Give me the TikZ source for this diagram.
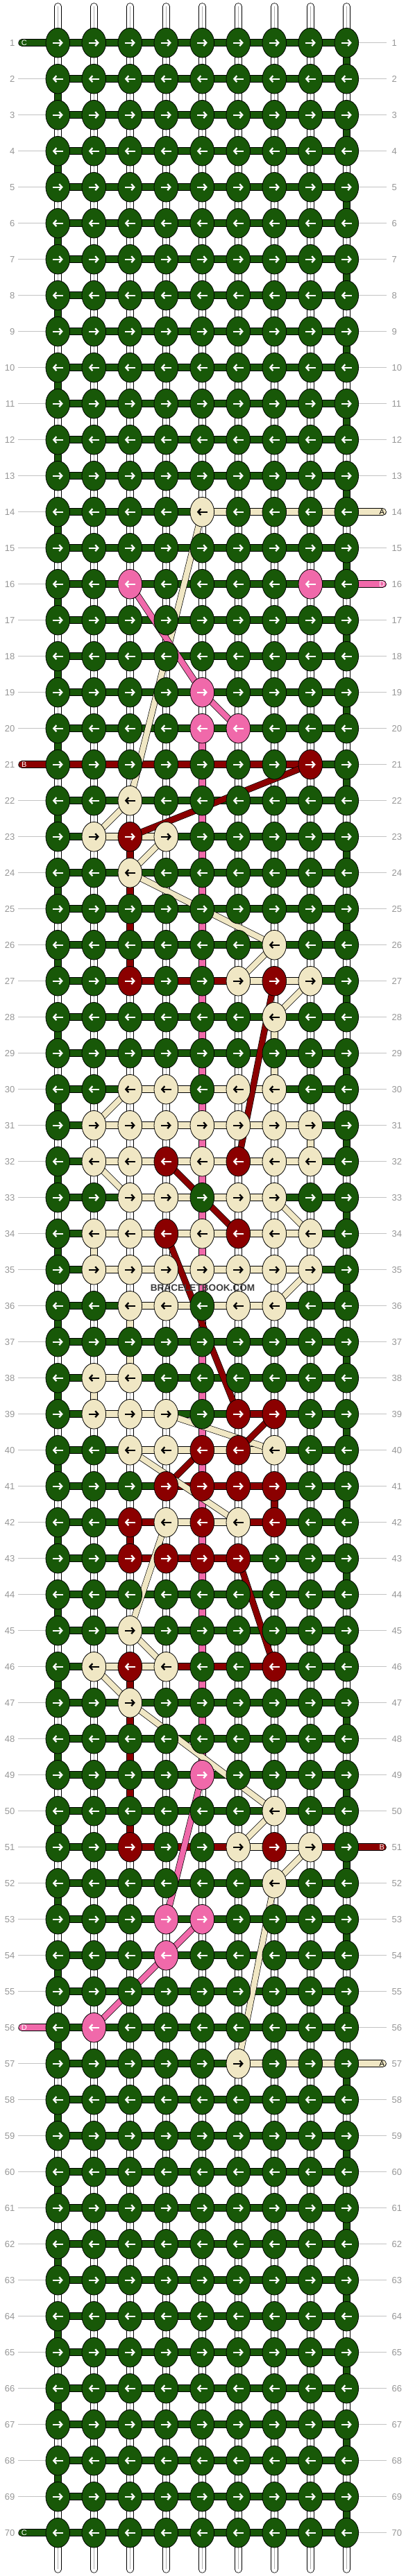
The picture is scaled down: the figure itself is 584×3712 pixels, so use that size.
\documentclass[tikz,border=0pt]{standalone}
\usepackage{fontspec}
\setmainfont{Liberation Sans}
\usetikzlibrary{arrows.meta,shapes.geometric}
\definecolor{cG}{RGB}{24,88,8}
\definecolor{cY}{RGB}{240,231,196}
\definecolor{cR}{RGB}{139,0,0}
\definecolor{cP}{RGB}{240,105,170}
\definecolor{cW}{RGB}{255,255,255}
\definecolor{lblgray}{RGB}{150,150,150}
\definecolor{linegray}{RGB}{195,195,195}
\definecolor{midgray}{RGB}{175,175,175}
\definecolor{wmgray}{RGB}{60,60,60}
\newcommand\setkn[2]{\expandafter\def\csname kn#1\endcsname{#2}}
\newcommand\sethz[2]{\expandafter\def\csname hz#1\endcsname{#2}}
\newcommand\setvt[2]{\expandafter\def\csname vt#1\endcsname{#2}}
\newcommand\setslL[2]{\expandafter\def\csname slL#1\endcsname{#2}}
\newcommand\setslR[2]{\expandafter\def\csname slR#1\endcsname{#2}}
% knots
\setkn{14}{G,G,G,G,Y,G,G,G,G}
\setkn{16}{G,G,P,G,G,G,G,P,G}
\setkn{19}{G,G,G,G,P,G,G,G,G}
\setkn{20}{G,G,G,G,P,P,G,G,G}
\setkn{21}{G,G,G,G,G,G,G,R,G}
\setkn{22}{G,G,Y,G,G,G,G,G,G}
\setkn{23}{G,Y,R,Y,G,G,G,G,G}
\setkn{24}{G,G,Y,G,G,G,G,G,G}
\setkn{26}{G,G,G,G,G,G,Y,G,G}
\setkn{27}{G,G,R,G,G,Y,R,Y,G}
\setkn{28}{G,G,G,G,G,G,Y,G,G}
\setkn{30}{G,G,Y,Y,G,Y,Y,G,G}
\setkn{31}{G,Y,Y,Y,Y,Y,Y,Y,G}
\setkn{32}{G,Y,Y,R,Y,R,Y,Y,G}
\setkn{33}{G,G,Y,Y,G,Y,Y,G,G}
\setkn{34}{G,Y,Y,R,Y,R,Y,Y,G}
\setkn{35}{G,Y,Y,Y,Y,Y,Y,Y,G}
\setkn{36}{G,G,Y,Y,G,Y,Y,G,G}
\setkn{38}{G,Y,Y,G,G,G,G,G,G}
\setkn{39}{G,Y,Y,Y,G,R,R,G,G}
\setkn{40}{G,G,Y,Y,R,R,Y,G,G}
\setkn{41}{G,G,G,R,R,R,R,G,G}
\setkn{42}{G,G,R,Y,R,Y,R,G,G}
\setkn{43}{G,G,R,R,R,R,G,G,G}
\setkn{45}{G,G,Y,G,G,G,G,G,G}
\setkn{46}{G,Y,R,Y,G,G,R,G,G}
\setkn{47}{G,G,Y,G,G,G,G,G,G}
\setkn{49}{G,G,G,G,P,G,G,G,G}
\setkn{50}{G,G,G,G,G,G,Y,G,G}
\setkn{51}{G,G,R,G,G,Y,R,Y,G}
\setkn{52}{G,G,G,G,G,G,Y,G,G}
\setkn{53}{G,G,G,P,P,G,G,G,G}
\setkn{54}{G,G,G,P,G,G,G,G,G}
\setkn{56}{G,P,G,G,G,G,G,G,G}
\setkn{57}{G,G,G,G,G,Y,G,G,G}
% horizontals: left stub, 8 links, right stub
\sethz{1}{G,G,G,G,G,G,G,G,G,N}
\sethz{14}{N,G,G,G,G,Y,Y,Y,Y,Y}
\sethz{16}{N,G,G,G,G,G,G,G,G,P}
\sethz{21}{R,R,R,R,R,R,R,R,G,N}
\sethz{23}{N,G,Y,Y,G,G,G,G,G,N}
\sethz{27}{N,G,G,R,R,R,Y,Y,G,N}
\sethz{30}{N,G,G,Y,Y,Y,Y,G,G,N}
\sethz{31}{N,G,Y,Y,Y,Y,Y,Y,G,N}
\sethz{32}{N,G,Y,Y,Y,Y,Y,Y,G,N}
\sethz{33}{N,G,G,Y,Y,Y,Y,G,G,N}
\sethz{34}{N,G,Y,Y,Y,Y,Y,Y,G,N}
\sethz{35}{N,G,Y,Y,Y,Y,Y,Y,G,N}
\sethz{36}{N,G,G,Y,Y,Y,Y,G,G,N}
\sethz{38}{N,G,Y,G,G,G,G,G,G,N}
\sethz{39}{N,G,Y,Y,G,G,R,G,G,N}
\sethz{40}{N,G,G,Y,Y,Y,Y,G,G,N}
\sethz{41}{N,G,G,G,R,R,R,G,G,N}
\sethz{42}{N,G,G,R,Y,Y,R,G,G,N}
\sethz{43}{N,G,G,R,R,R,G,G,G,N}
\sethz{46}{N,G,Y,Y,R,R,R,G,G,N}
\sethz{51}{N,G,G,R,R,R,Y,Y,R,R}
\sethz{56}{P,G,G,G,G,G,G,G,G,N}
\sethz{57}{N,G,G,G,G,G,Y,Y,Y,Y}
\sethz{70}{G,G,G,G,G,G,G,G,G,N}
% verticals below row r
\setvt{20}{G,W,W,W,P,W,W,W,W}
\setvt{21}{W,W,W,W,P,W,W,W,G}
\setvt{22}{G,W,W,W,P,W,W,W,W}
\setvt{23}{W,W,R,W,P,W,W,W,G}
\setvt{24}{G,W,R,W,P,W,W,W,W}
\setvt{25}{W,W,R,W,P,W,W,W,G}
\setvt{26}{G,W,R,W,P,W,W,W,W}
\setvt{27}{W,W,W,W,P,W,W,W,G}
\setvt{28}{G,W,W,W,P,W,Y,W,W}
\setvt{29}{W,W,W,W,P,W,Y,W,G}
\setvt{30}{G,W,W,W,P,W,W,W,W}
\setvt{31}{W,W,W,W,P,W,W,Y,G}
\setvt{32}{G,W,W,W,P,W,W,W,W}
\setvt{33}{W,W,W,W,P,W,W,W,G}
\setvt{34}{G,Y,W,W,P,W,W,W,W}
\setvt{35}{W,W,W,W,P,W,W,W,G}
\setvt{36}{G,W,Y,W,P,W,W,W,W}
\setvt{37}{W,W,Y,W,P,W,W,W,G}
\setvt{38}{G,Y,W,W,P,W,W,W,W}
\setvt{39}{W,W,W,W,P,W,W,W,G}
\setvt{40}{G,W,W,W,P,W,W,W,W}
\setvt{41}{W,W,W,W,P,W,R,W,G}
\setvt{42}{G,W,R,W,P,W,W,W,W}
\setvt{43}{W,W,W,W,P,W,W,W,G}
\setvt{44}{G,W,W,W,P,W,W,W,W}
\setvt{45}{W,W,W,W,P,W,W,W,G}
\setvt{46}{G,W,R,W,P,W,W,W,W}
\setvt{47}{W,W,R,W,P,W,W,W,G}
\setvt{48}{G,W,R,W,P,W,W,W,W}
\setvt{49}{W,W,R,W,W,W,W,W,G}
\setvt{50}{G,W,R,W,W,W,W,W,W}
% stub letters
\setslL{1}{C}\setslL{21}{B}\setslL{56}{D}\setslL{70}{C}
\setslR{14}{A}\setslR{16}{D}\setslR{51}{B}\setslR{57}{A}
\tikzset{
  conn/.style={line width=0.8pt, draw=black, double=#1, double distance=9.4pt},
  vconn/.style={line width=0.8pt, draw=black, double=#1, double distance=9pt},
  diag/.style={line width=0.7pt, draw=black, double=#1, double distance=8pt},
  midline/.style={draw=midgray, line width=0.7pt},
  lblline/.style={draw=linegray, line width=0.9pt},
  knot/.style={ellipse, draw=black, line width=0.8pt, minimum width=34.6pt, minimum height=42.6pt, inner sep=0pt},
  arr/.style={line width=2.3pt, -{Straight Barb[length=4pt,width=9pt]}},
  lbl/.style={font=\fontsize{13}{13}\selectfont, text=lblgray, inner sep=0pt},
  stubtxt/.style={font=\fontsize{11}{11}\selectfont, inner sep=0pt},
}
\begin{document}
\begin{tikzpicture}[x=1pt,y=-1pt]
\useasboundingbox (0,0) rectangle (584,3712);
% coordinates
\foreach \r in {1,...,70}{
  \pgfmathsetmacro\yy{61.7+52*(\r-1)}
  \foreach \c in {1,...,9}{
    \pgfmathsetmacro\xx{83.3+52*(\c-1)}
    \coordinate (p-\r-\c) at (\xx,\yy);
  }
  \coordinate (L-\r) at (31.8,\yy);
  \coordinate (R-\r) at (551.3,\yy);
  \coordinate (gl-\r) at (26,\yy);
  \coordinate (gr-\r) at (557,\yy);
}
\foreach \c in {1,...,9}{
  \pgfmathsetmacro\xx{83.3+52*(\c-1)}
  \coordinate (t-\c) at (\xx,9.4);
  \coordinate (b-\c) at (\xx,3702.4);
}
% top and bottom stubs
\foreach \c in {1,...,9}{
  \draw[vconn=white, line cap=round] (t-\c) -- (p-1-\c);
  \draw[midline] (t-\c) -- (p-1-\c);
  \draw[vconn=white, line cap=round] (p-70-\c) -- (b-\c);
  \draw[midline] (p-70-\c) -- (b-\c);
}
% horizontal connectors
\foreach \r in {1,...,70}{
  \ifcsname hz\r\endcsname \edef\hl{\csname hz\r\endcsname}\else \def\hl{N,G,G,G,G,G,G,G,G,N}\fi
  \foreach \h [count=\i from 0] in \hl {
    \ifnum\i=0
      \if N\h \draw[lblline] (gl-\r) -- (p-\r-1);
      \else \draw[conn=c\h, line cap=round] (L-\r) -- (p-\r-1);
      \fi
    \else\ifnum\i=9
      \if N\h \draw[lblline] (p-\r-9) -- (gr-\r);
      \else \draw[conn=c\h, line cap=round] (p-\r-9) -- (R-\r);
      \fi
    \else
      \pgfmathtruncatemacro\j{\i+1}
      \draw[conn=c\h] (p-\r-\i) -- (p-\r-\j);
    \fi\fi
  }
}
% vertical connectors
\foreach \r in {1,...,69}{
  \pgfmathtruncatemacro\rn{\r+1}
  \ifcsname vt\r\endcsname \edef\vl{\csname vt\r\endcsname}\else
    \ifodd\r \def\vl{W,W,W,W,W,W,W,W,G}\else \def\vl{G,W,W,W,W,W,W,W,W}\fi
  \fi
  \foreach \v [count=\c] in \vl {
    \if W\v
      \draw[vconn=white] (p-\r-\c) -- (p-\rn-\c);
      \draw[midline] (p-\r-\c) -- (p-\rn-\c);
    \else
      \draw[vconn=c\v] (p-\r-\c) -- (p-\rn-\c);
    \fi
  }
}
% diagonal floats
\foreach \col/\ra/\ca/\rb/\cb in {
  Y/14/5/22/3, P/16/3/19/5, P/19/5/20/6, R/21/8/23/3, Y/22/3/23/2,
  Y/23/4/24/3, Y/24/3/26/7, Y/26/7/27/6, Y/27/8/28/7, R/27/7/32/6,
  Y/30/3/31/2, Y/32/2/33/3, R/32/4/34/6, Y/33/7/34/8, R/34/4/39/6,
  Y/35/8/36/7, Y/39/4/40/7, R/39/7/40/6, R/40/5/41/4, Y/40/3/42/6,
  Y/42/4/45/3, R/43/6/46/7, Y/45/3/46/4, Y/46/2/47/3, Y/47/3/50/7,
  P/49/5/53/4, Y/50/7/51/6, Y/51/8/52/7, Y/52/7/57/6, P/53/5/54/4,
  P/54/4/56/2}{
  \draw[diag=c\col] (p-\ra-\ca) -- (p-\rb-\cb);
}
% knots, arrows, labels
\foreach \r in {1,...,70}{
  \ifcsname kn\r\endcsname \edef\kl{\csname kn\r\endcsname}\else \def\kl{G,G,G,G,G,G,G,G,G}\fi
  \foreach \k [count=\c] in \kl {
    \node[knot, fill=c\k] (k-\r-\c) at (p-\r-\c) {};
    \if Y\k \def\ac{black}\else \def\ac{white}\fi
    \ifodd\r
      \draw[arr, color=\ac] ([xshift=-7.5pt]k-\r-\c.center) -- ([xshift=7.5pt]k-\r-\c.center);
    \else
      \draw[arr, color=\ac] ([xshift=7.5pt]k-\r-\c.center) -- ([xshift=-7.5pt]k-\r-\c.center);
    \fi
  }
  \node[lbl, anchor=east] (nl-\r) at ([xshift=-4.5pt]gl-\r) {\r};
  \node[lbl, anchor=west] (nr-\r) at ([xshift=7.5pt]gr-\r) {\r};
  \ifcsname slL\r\endcsname
    \node[stubtxt, text=white] (sl-\r) at ([xshift=3pt]L-\r) {\csname slL\r\endcsname};
  \fi
  \ifcsname slR\r\endcsname
    \ifnum\r=14 \def\tc{black}\else\ifnum\r=57 \def\tc{black}\else\def\tc{white}\fi\fi
    \node[stubtxt, text=\tc] (sr-\r) at ([xshift=-1pt]R-\r) {\csname slR\r\endcsname};
  \fi
}
\node[font=\fontsize{13.6}{14}\selectfont\bfseries, text=wmgray, inner sep=0pt] (wm) at (292,1856) {BRACELETBOOK.COM};
\end{tikzpicture}
\end{document}
